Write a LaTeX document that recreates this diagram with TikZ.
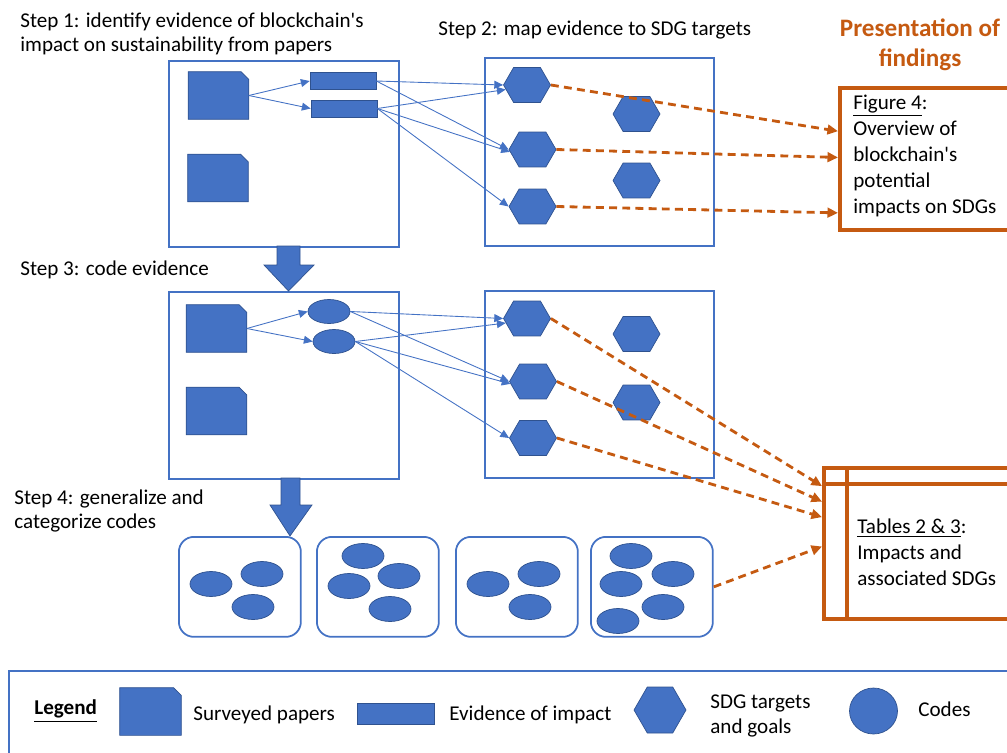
\documentclass[tikz,border=0pt]{standalone}
\usepackage{fontspec}
\setmainfont{Carlito}
\usetikzlibrary{shapes.geometric, shapes.symbols, arrows.meta, calc}
\definecolor{sdgblue}{HTML}{4472C4}
\definecolor{sdgdark}{HTML}{2F528F}
\definecolor{findorange}{HTML}{C55A11}
\tikzstyle{stepbox}=[draw=sdgblue, line width=1pt, inner sep=0pt, anchor=north west]
\tikzstyle{paper}=[rectangle, inner sep=0pt, minimum width=1.2cm, minimum height=0.94cm,
    append after command={\pgfextra{\filldraw[fill=sdgblue, draw=sdgdark, line width=0.4pt]
    (\tikzlastnode.south west) -- (\tikzlastnode.north west)
    -- ([xshift=-4.5pt]\tikzlastnode.north east) -- ([yshift=-4.5pt]\tikzlastnode.north east)
    -- (\tikzlastnode.south east) -- cycle;}}]
\tikzstyle{evid}=[rectangle, fill=sdgblue, draw=sdgdark, inner sep=0pt,
    minimum width=1.32cm, minimum height=0.34cm]
\tikzstyle{sdg}=[signal, signal to=east and west, signal pointer angle=120,
    fill=sdgblue, draw=sdgdark, inner sep=0pt, minimum width=0.94cm, minimum height=0.7cm]
\tikzstyle{code}=[ellipse, fill=sdgblue, draw=sdgdark, inner sep=0pt,
    minimum width=0.84cm, minimum height=0.48cm]
\tikzstyle{group}=[draw=sdgblue, line width=1pt, rounded corners=0.3cm, inner sep=0pt,
    anchor=north west, minimum width=2.44cm, minimum height=2cm]
\tikzstyle{outcome}=[draw=findorange, line width=2.2pt, inner sep=0pt, anchor=north west]
\tikzstyle{link}=[draw=sdgblue, line width=0.5pt, -{Triangle[length=5pt,width=4.5pt]}]
\tikzstyle{mapto}=[draw=findorange, line width=1.6pt, dash pattern=on 4.5pt off 3pt,
    -{Triangle[length=6pt,width=5.5pt]}]
\tikzstyle{steptext}=[inner sep=0pt, anchor=west, align=left,
    font=\fontsize{12}{14}\selectfont]
\tikzstyle{bigarrow}=[fill=sdgblue, draw=sdgdark, line width=0.4pt]

\begin{document}
\begin{tikzpicture}[x=0.02cm, y=-0.02cm]
    \useasboundingbox (0,0) rectangle (1007,753);
    \node (step1) [steptext, font=\fontsize{12}{13.6}\selectfont] at (20,34)
        {Step 1: identify evidence of blockchain\textquotesingle s\\impact on sustainability from papers};
    \node (step2) [steptext] at (438,30) {Step 2: map evidence to SDG targets};
    \node (step3) [steptext] at (20,270) {Step 3: code evidence};
    \node (step4) [steptext] at (14,511) {Step 4: generalize and\\categorize codes};
    \node (title) [font=\fontsize{14.3}{17}\selectfont\bfseries, text=findorange, align=center,
        inner sep=0pt] at (920,45) {Presentation of\\findings};

    \node (box1) [stepbox, minimum width=4.6cm, minimum height=3.72cm] at (168,60) {};
    \path (box1.north west)+(50.5,35.5) node (p1) [paper] {};
    \path (box1.north west)+(50,118) node (p2) [paper] {};
    \path (box1.north west)+(175,21) node (e1) [evid] {};
    \path (box1.north west)+(176,48.5) node (e2) [evid] {};

    \node (box2) [stepbox, minimum width=4.58cm, minimum height=3.76cm] at (484,57) {};
    \path (box2.north west)+(43,28) node (h1) [sdg] {};
    \path (box2.north west)+(48.5,92.5) node (h2) [sdg] {};
    \path (box2.north west)+(48.5,149.5) node (h3) [sdg] {};
    \path (box2.north west)+(152.5,57) node (h4) [sdg] {};
    \path (box2.north west)+(152.5,123.5) node (h5) [sdg] {};

    \node (box3) [stepbox, minimum width=4.6cm, minimum height=3.74cm] at (168,291) {};
    \path (box3.north west)+(48.5,37.5) node (p3) [paper] {};
    \path (box3.north west)+(48.5,120) node (p4) [paper] {};
    \path (box3.north west)+(161,20.5) node (c1) [code] {};
    \path (box3.north west)+(166,50.5) node (c2) [code] {};

    \node (box4) [stepbox, minimum width=4.58cm, minimum height=3.74cm] at (484,290) {};
    \path (box4.north west)+(43,28.5) node (h6) [sdg] {};
    \path (box4.north west)+(49,91.5) node (h7) [sdg] {};
    \path (box4.north west)+(49,148) node (h8) [sdg] {};
    \path (box4.north west)+(152.5,44) node (h9) [sdg] {};
    \path (box4.north west)+(152.5,112.5) node (h10) [sdg] {};

    \fill[bigarrow] (277,246) -- (300,246) -- (300,265) -- (314,265) -- (288.5,291)
        -- (264,265) -- (277,265) -- cycle;
    \fill[bigarrow] (281,478) -- (300,478) -- (300,505) -- (312,505) -- (290,536)
        -- (270,505) -- (281,505) -- cycle;

    \foreach \gx/\gname in {178/g1, 316/g2, 455/g3, 590/g4}
        \node (\gname) [group] at (\gx,536) {};
    \foreach \cx/\cy [count=\i] in {211/584, 262/574, 253/607, 363/556, 349/586, 399/576,
        390/609, 488/584, 539/574, 530/607, 631/556, 621/584, 673/574, 663/607, 618/621}
        \node (k\i) [code, minimum height=0.5cm] at (\cx,\cy) {};

    \node (fig) [outcome, minimum width=5cm, minimum height=2.84cm] at (838,86) {};
    \node (figtext) [steptext, font=\fontsize{12}{14.8}\selectfont] at (853,156)
        {\underline{Figure 4}:\\Overview of\\blockchain\textquotesingle s\\potential\\impacts on SDGs};
    \node (tab) [outcome, minimum width=5cm, minimum height=3.02cm] at (822,466) {};
    \draw[draw=findorange, line width=2.2pt] ($(tab.north west)+(0,18)$) -- ($(tab.north east)+(0,18)$);
    \draw[draw=findorange, line width=2.2pt] ($(tab.north west)+(25,0)$) -- ($(tab.south west)+(25,0)$);
    \node (tabtext) [steptext, font=\fontsize{12}{14.8}\selectfont] at (857,552)
        {\underline{Tables 2 \& 3}:\\Impacts and\\associated SDGs};

    \draw[link] (e1.east) -- (h1.west);
    \draw[link] (e1.east) -- (h2.west);
    \draw[link] (e2.east) -- (h1.192);
    \draw[link] (e2.east) -- (h2.186);
    \draw[link] (e2.east) -- (h3.west);
    \draw[link] (p1.east) -- (e1.west);
    \draw[link] (p1.east) -- (e2.west);

    \draw[link] (c1.east) -- (h6.west);
    \draw[link] (c1.east) -- (h7.west);
    \draw[link] (c2.east) -- (h6.192);
    \draw[link] (c2.east) -- (h7.186);
    \draw[link] (c2.east) -- (h8.west);
    \draw[link] (p3.east) -- (c1.west);
    \draw[link] (p3.east) -- (c2.west);

    \draw[mapto] (h1.east) -- ($(fig.north west)!0.31!(fig.south west)$);
    \draw[mapto] (h2.east) -- ($(fig.north west)!0.49!(fig.south west)$);
    \draw[mapto] (h3.east) -- ($(fig.north west)!0.87!(fig.south west)$);
    \draw[mapto] (h6.east) -- ($(tab.north west)!0.13!(tab.south west)$);
    \draw[mapto] (h7.east) -- ($(tab.north west)!0.23!(tab.south west)$);
    \draw[mapto] (h8.east) -- ($(tab.north west)!0.33!(tab.south west)$);
    \draw[mapto] (g4.east) -- ($(tab.north west)!0.52!(tab.south west)$);

    \node (legend) [stepbox, minimum width=21cm, minimum height=2.2cm] at (8,670) {};
    \node (legtitle) [steptext, font=\fontsize{12}{14}\selectfont\bfseries] at (34,711) {\underline{Legend}};
    \node (lpaper) [paper, minimum width=1.22cm] at (150.5,711.5) {};
    \node (lpapertext) [steptext] at (193,715) {Surveyed papers};
    \node (levid) [evid, minimum width=1.54cm, minimum height=0.42cm] at (395.5,713.5) {};
    \node (levidtext) [steptext] at (449,715) {Evidence of impact};
    \node (lsdg) [sdg, minimum width=1.04cm, minimum height=0.92cm] at (660,710) {};
    \node (lsdgtext) [steptext] at (710,716) {SDG targets\\and goals};
    \node (lcode) [code, minimum width=0.96cm, minimum height=0.92cm] at (873.5,711) {};
    \node (lcodetext) [steptext] at (918,709) {Codes};
\end{tikzpicture}
\end{document}
